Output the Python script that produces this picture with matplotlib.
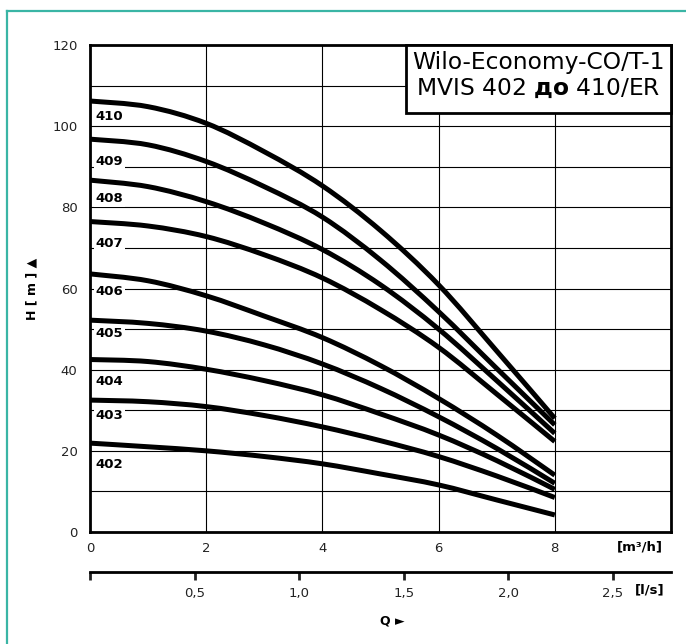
import matplotlib
matplotlib.use('Agg')
import matplotlib.pyplot as plt
from matplotlib.lines import Line2D
from matplotlib.path import Path
from matplotlib.patches import PathPatch

# ================= 数据 =================
Q = [0, 1, 2, 3, 4, 5, 6, 7, 8]  # m3/h

H_410 = [106.2, 104.8, 100.7, 93.7, 85.3, 74.3, 60.9, 44.6, 28.0]
H_409 = [96.8, 95.4, 91.3, 85.1, 77.6, 67.0, 54.3, 40.3, 26.4]
H_408 = [86.7, 85.1, 81.4, 76.1, 69.6, 60.9, 50.0, 37.3, 24.3]
H_407 = [76.5, 75.4, 72.8, 68.3, 62.6, 54.8, 45.5, 34.0, 22.3]
H_406 = [63.6, 61.9, 58.2, 53.2, 47.9, 41.0, 32.9, 23.9, 14.0]
H_405 = [52.2, 51.4, 49.5, 46.1, 41.4, 35.4, 28.4, 20.6, 12.0]
H_404 = [42.5, 42.0, 40.1, 37.3, 33.8, 29.1, 23.9, 17.6, 10.5]
H_403 = [32.5, 32.1, 30.9, 28.7, 25.9, 22.5, 18.6, 13.8, 8.5]
H_402 = [21.9, 21.0, 20.0, 18.6, 16.8, 14.3, 11.6, 7.9, 4.2]

curves = {'410': H_410, '409': H_409, '408': H_408, '407': H_407, '406': H_406,
          '405': H_405, '404': H_404, '403': H_403, '402': H_402}
label_y = {'410': 102.3, '409': 91.3, '408': 82.2, '407': 71.1, '406': 59.2,
           '405': 48.8, '404': 37.1, '403': 28.7, '402': 16.6}

y_ticks = [0, 20, 40, 60, 80, 100, 120]
x_ticks = [0, 2, 4, 6, 8]
ls_ticks = [0, 0.5, 1.0, 1.5, 2.0, 2.5]
ls_labels = ['', '0,5', '1,0', '1,5', '2,0', '2,5']
# =======================================


def smooth_path(x, y):
    """用贝塞尔曲线把读出的点连成平滑曲线 (Catmull-Rom -> CURVE4)"""
    verts = [(x[0], y[0])]
    codes = [Path.MOVETO]
    n = len(x)
    for i in range(n - 1):
        x0, y0 = (x[i - 1], y[i - 1]) if i > 0 else (x[i], y[i])
        x3, y3 = (x[i + 2], y[i + 2]) if i + 2 < n else (x[i + 1], y[i + 1])
        c1 = (x[i] + (x[i + 1] - x0) / 6, y[i] + (y[i + 1] - y0) / 6)
        c2 = (x[i + 1] - (x3 - x[i]) / 6, y[i + 1] - (y3 - y[i]) / 6)
        verts += [c1, c2, (x[i + 1], y[i + 1])]
        codes += [Path.CURVE4] * 3
    return Path(verts, codes)


plt.rcParams['font.family'] = ['DejaVu Sans']
plt.rcParams['mathtext.fontset'] = 'dejavusans'

fig = plt.figure(figsize=(6.86, 6.44), dpi=100)
ax = fig.add_axes([90 / 686, 1 - 532 / 644, 581 / 686, 487 / 644])

for name, h in curves.items():
    ax.add_patch(PathPatch(smooth_path(Q, h), fc='none', ec='black', lw=3.6,
                           capstyle='butt', zorder=3))
    ax.text(0.1, label_y[name], name, fontsize=9.5, fontweight='bold', ha='left', va='center',
            bbox=dict(fc='white', ec='none', pad=1.2), zorder=2)

ax.set_xlim(0, 10)
ax.set_ylim(0, 120)
ax.set_xticks(range(0, 11, 2))
ax.set_xticklabels([str(t) for t in x_ticks] + [''])
ax.set_yticks(y_ticks)
ax.set_yticks(range(10, 120, 20), minor=True)
ax.grid(True, which='both', color='black', lw=0.8, zorder=1)
ax.tick_params(which='both', length=0, labelsize=9.5, colors='#222222')
ax.tick_params(axis='y', pad=9)
ax.tick_params(axis='x', pad=7)
for s in ax.spines.values():
    s.set_linewidth(2)
    s.set_zorder(5)

ax.set_ylabel('H [ m ] ▲', fontsize=9, fontweight='bold', labelpad=10)

# 标题框
ax.add_patch(plt.Rectangle(((406 - 90) / 581, (532 - 113) / 487), 265 / 581, 68 / 487,
                           transform=ax.transAxes, fc='white', ec='black', lw=2,
                           clip_on=False, zorder=6))
ax.text(0.772, (532 - 63) / 487, 'Wilo-Economy-CO/T-1', transform=ax.transAxes,
        fontsize=16.8, ha='center', va='center', zorder=7)
ax.text(0.772, (532 - 88) / 487, 'MVIS 402 $\\mathbf{до}$ 410/ER', transform=ax.transAxes,
        fontsize=16.8, ha='center', va='center', zorder=7)

fig.text(640 / 686, 1 - 547 / 644, '[m³/h]', fontsize=9.5, fontweight='bold', ha='center', va='center')

# 第二个横轴 l/s
ax2 = fig.add_axes([90 / 686, 1 - 572 / 644, 581 / 686, 0.0001])
ax2.set_xlim(0, 10 / 3.6)
ax2.set_yticks([])
for side in ['left', 'right', 'top']:
    ax2.spines[side].set_visible(False)
ax2.spines['bottom'].set_linewidth(2)
ax2.set_xticks(ls_ticks)
ax2.set_xticklabels(ls_labels)
ax2.tick_params(axis='x', length=6, width=2, labelsize=9.5, pad=5, colors='#222222')
fig.text(650 / 686, 1 - 590 / 644, '[l/s]', fontsize=9.5, fontweight='bold', ha='center', va='center')
fig.text(392 / 686, 1 - 621 / 644, 'Q ►', fontsize=9, fontweight='bold', ha='center', va='center')

# 外框 (左边和上边)
teal = '#3ab5a5'
fig.add_artist(Line2D([7 / 686, 7 / 686], [0, 1 - 10.5 / 644], transform=fig.transFigure, color=teal, lw=1.6))
fig.add_artist(Line2D([7 / 686, 1], [1 - 10.5 / 644, 1 - 10.5 / 644], transform=fig.transFigure, color=teal, lw=1.6))

fig.savefig('out.png', dpi=100)
